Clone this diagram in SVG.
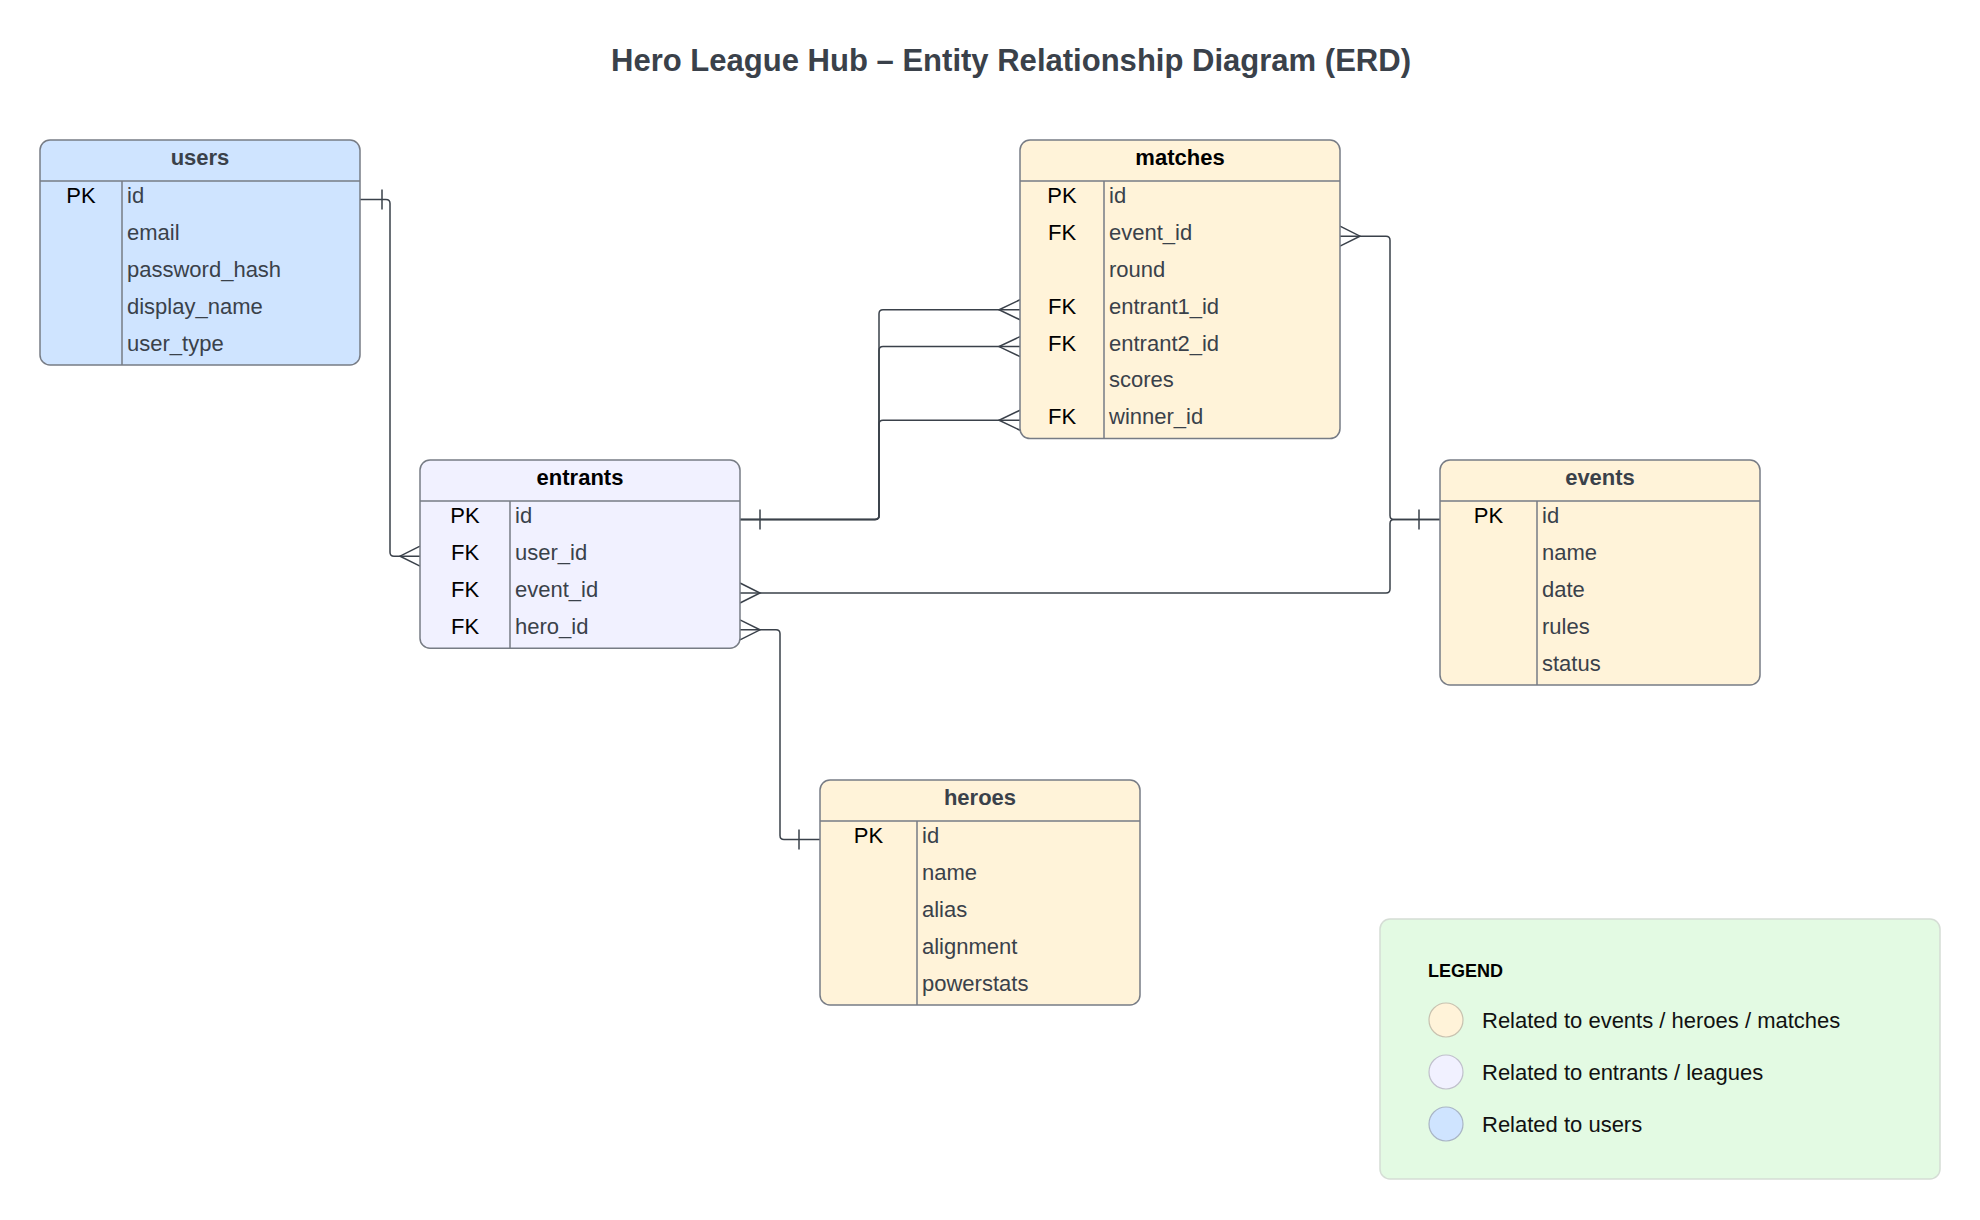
<svg xmlns="http://www.w3.org/2000/svg" width="1980" height="1220" viewBox="0 0 1980 1220">
<style>
text{font-family:"Liberation Sans",Arial,sans-serif}
.title{font-size:32px;font-weight:bold;fill:#3a414a}
.hdr{font-size:22px;font-weight:bold;text-anchor:middle}
.key{font-size:22px;fill:#000;text-anchor:middle}
.fld{font-size:22px;fill:#3a414a}
.box{stroke:#777c85;stroke-width:1.5}
.div{stroke:#777c85;stroke-width:1.5;fill:none}
.con{stroke:#3a414a;stroke-width:1.5;fill:none}
.lg{font-size:22px;fill:#111}
</style>
<rect width="1980" height="1220" fill="#fff"/>
<text class="title" x="1011" y="71" text-anchor="middle" textLength="800" lengthAdjust="spacingAndGlyphs">Hero League Hub – Entity Relationship Diagram (ERD)</text>

<g id="connectors">
<path class="con" d="M360,199.4 H386 Q390,199.4 390,203.4 V552.2 Q390,556.2 394,556.2 H420"/>
<path class="con" d="M382,189.4 V209.4 M420,546.2 L400,556.2 L420,566.2"/>
<path class="con" d="M740,519.4 H875 Q879,519.4 879,515.4 V313.8 Q879,309.8 883,309.8 H1020"/>
<path class="con" d="M740,519.4 H875 Q879,519.4 879,515.4 V350.6 Q879,346.6 883,346.6 H1020"/>
<path class="con" d="M740,519.4 H875 Q879,519.4 879,515.4 V424.2 Q879,420.2 883,420.2 H1020"/>
<path class="con" d="M760,509.4 V529.4 M1020,299.8 L999,309.8 L1020,319.8 M1020,336.6 L999,346.6 L1020,356.6 M1020,410.2 L999,420.2 L1020,430.2"/>
<path class="con" d="M1340,236.2 H1386 Q1390,236.2 1390,240.2 V515.4 Q1390,519.4 1394,519.4 H1440"/>
<path class="con" d="M740,593 H1386 Q1390,593 1390,589 V523.4 Q1390,519.4 1394,519.4 H1440"/>
<path class="con" d="M1340,226.2 L1360,236.2 L1340,246.2 M1419,509.4 V529.4 M740,583 L760,593 L740,603"/>
<path class="con" d="M740,629.8 H776 Q780,629.8 780,633.8 V835.4 Q780,839.4 784,839.4 H820"/>
<path class="con" d="M740,619.8 L760,629.8 L740,639.8 M799,829.4 V849.4"/>
</g>

<g id="users">
<rect class="box" x="40" y="140" width="320" height="225" rx="10" fill="#cfe4ff"/>
<path class="div" d="M40,181 H360 M122,181 V365"/>
<text class="hdr" x="200" y="164.5" fill="#3a414a">users</text>
<text class="key" x="81" y="203.4">PK</text>
<text class="fld" x="127" y="203.4">id</text>
<text class="fld" x="127" y="240.2">email</text>
<text class="fld" x="127" y="277">password_hash</text>
<text class="fld" x="127" y="313.8">display_name</text>
<text class="fld" x="127" y="350.6">user_type</text>
</g>

<g id="entrants">
<rect class="box" x="420" y="460" width="320" height="188.2" rx="10" fill="#f1f1ff"/>
<path class="div" d="M420,501 H740 M510,501 V648.2"/>
<text class="hdr" x="580" y="484.5" fill="#000">entrants</text>
<text class="key" x="465" y="523.4">PK</text>
<text class="key" x="465" y="560.2">FK</text>
<text class="key" x="465" y="597">FK</text>
<text class="key" x="465" y="633.8">FK</text>
<text class="fld" x="515" y="523.4">id</text>
<text class="fld" x="515" y="560.2">user_id</text>
<text class="fld" x="515" y="597">event_id</text>
<text class="fld" x="515" y="633.8">hero_id</text>
</g>

<g id="matches">
<rect class="box" x="1020" y="140" width="320" height="298.6" rx="10" fill="#fff3d9"/>
<path class="div" d="M1020,181 H1340 M1104,181 V438.6"/>
<text class="hdr" x="1180" y="164.5" fill="#000">matches</text>
<text class="key" x="1062" y="203.4">PK</text>
<text class="key" x="1062" y="240.2">FK</text>
<text class="key" x="1062" y="313.8">FK</text>
<text class="key" x="1062" y="350.6">FK</text>
<text class="key" x="1062" y="424.2">FK</text>
<text class="fld" x="1109" y="203.4">id</text>
<text class="fld" x="1109" y="240.2">event_id</text>
<text class="fld" x="1109" y="277">round</text>
<text class="fld" x="1109" y="313.8">entrant1_id</text>
<text class="fld" x="1109" y="350.6">entrant2_id</text>
<text class="fld" x="1109" y="387.4">scores</text>
<text class="fld" x="1109" y="424.2">winner_id</text>
</g>

<g id="events">
<rect class="box" x="1440" y="460" width="320" height="225" rx="10" fill="#fff3d9"/>
<path class="div" d="M1440,501 H1760 M1537,501 V685"/>
<text class="hdr" x="1600" y="484.5" fill="#3a414a">events</text>
<text class="key" x="1488.5" y="523.4">PK</text>
<text class="fld" x="1542" y="523.4">id</text>
<text class="fld" x="1542" y="560.2">name</text>
<text class="fld" x="1542" y="597">date</text>
<text class="fld" x="1542" y="633.8">rules</text>
<text class="fld" x="1542" y="670.6">status</text>
</g>

<g id="heroes">
<rect class="box" x="820" y="780" width="320" height="225" rx="10" fill="#fff3d9"/>
<path class="div" d="M820,821 H1140 M917,821 V1005"/>
<text class="hdr" x="980" y="804.5" fill="#3a414a">heroes</text>
<text class="key" x="868.5" y="843.4">PK</text>
<text class="fld" x="922" y="843.4">id</text>
<text class="fld" x="922" y="880.2">name</text>
<text class="fld" x="922" y="917">alias</text>
<text class="fld" x="922" y="953.8">alignment</text>
<text class="fld" x="922" y="990.6">powerstats</text>
</g>

<g id="legend">
<rect x="1380" y="919" width="560" height="260" rx="10" fill="#e3fae3" stroke="#d5ddd5" stroke-width="1.5"/>
<text x="1428" y="977" font-size="18" font-weight="bold" fill="#000">LEGEND</text>
<circle cx="1446" cy="1020" r="17" fill="#fff3d9" stroke="#c8c2b0" stroke-width="1.2"/>
<circle cx="1446" cy="1072" r="17" fill="#f1f1ff" stroke="#c0c0cc" stroke-width="1.2"/>
<circle cx="1446" cy="1124" r="17" fill="#cfe4ff" stroke="#a9b5c5" stroke-width="1.2"/>
<text class="lg" x="1482" y="1028">Related to events / heroes / matches</text>
<text class="lg" x="1482" y="1080">Related to entrants / leagues</text>
<text class="lg" x="1482" y="1132">Related to users</text>
</g>
</svg>
